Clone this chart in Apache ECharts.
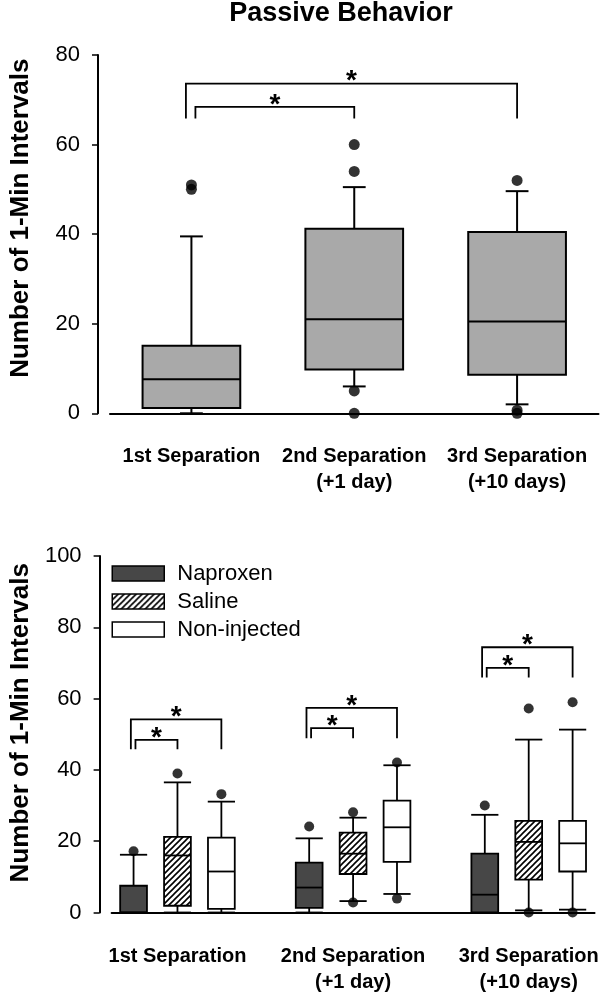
<!DOCTYPE html>
<html>
<head>
<meta charset="utf-8">
<script src="https://cdn.jsdelivr.net/npm/echarts@6/dist/echarts.min.js"></script>
<style>
html,body{margin:0;padding:0;background:#fff;}
#chart{width:600px;height:995px;}
</style>
</head>
<body>
<div id="chart"></div>
<script>
// ---------- data ----------
const chartTitle = 'Passive Behavior';
const yAxisTitle = 'Number of 1-Min Intervals';
const separationLabels = ['1st Separation', '2nd Separation\n(+1 day)', '3rd Separation\n(+10 days)'];

// top panel: [min, Q1, median, Q3, max]
const topYTicks = [0, 20, 40, 60, 80];
const topBoxes = [[0, 1.2, 7.6, 15.1, 39.5], [6.0, 9.8, 21.0, 41.2, 50.5], [2.0, 8.6, 20.5, 40.5, 49.6]];
const topOutliers = [[50, 51], [0, 5, 54, 60], [0, 0.7, 52]];
// [fromCategory, toCategory, barLevel, legEnd]
const topBrackets = [[0, 2, 73.6, 65.8], [0, 1, 68.4, 65.8]];

// bottom panel
const bottomYTicks = [0, 20, 40, 60, 80, 100];
const treatmentNames = ['Naproxen', 'Saline', 'Non-injected'];
const naproxenBoxes = [[0, 0, 0, 7.5, 16.2], [0, 1.3, 7.0, 14.0, 20.8], [0, 0, 5.0, 16.5, 27.4]];
const salineBoxes = [[0, 1.9, 16.0, 21.2, 36.5], [3.2, 10.8, 16.5, 22.4, 26.6], [0.6, 9.2, 19.8, 25.7, 48.5]];
const nonInjectedBoxes = [[0, 1.0, 11.5, 21.0, 31.1], [5.2, 14.2, 23.9, 31.4, 41.3], [0.8, 11.5, 19.4, 25.7, 51.3]];
const naproxenOutliers = [[17.2], [24.1], [30.0]];
const salineOutliers = [[39.0], [2.8, 28.1], [0, 57.2]];
const nonInjectedOutliers = [[33.2], [3.9, 42.1], [0, 59.0]];
// [group, fromTreatment, toTreatment, barLevel, legEnd]
const bottomBrackets = [
  [0, 0, 2, 54.2, 45.8], [0, 0, 1, 48.4, 45.8],
  [1, 0, 2, 57.4, 48.9], [1, 0, 1, 51.7, 48.9],
  [2, 0, 2, 74.4, 65.9], [2, 0, 1, 68.6, 65.9]
];

// ---------- styles ----------
const FONT = '"Liberation Sans", Arial, Helvetica, sans-serif';
function hatchPattern() {
  const c = document.createElement('canvas');
  const s = 6;
  c.width = s; c.height = s;
  const g = c.getContext('2d');
  g.fillStyle = '#fff'; g.fillRect(0, 0, s, s);
  g.strokeStyle = '#000'; g.lineWidth = 1.6;
  g.beginPath();
  g.moveTo(0, s); g.lineTo(s, 0);
  g.moveTo(-1, 1); g.lineTo(1, -1);
  g.moveTo(s - 1, s + 1); g.lineTo(s + 1, s - 1);
  g.stroke();
  return { image: c, repeat: 'repeat' };
}
const treatmentFills = ['#474747', hatchPattern(), '#ffffff'];

// ---------- helpers ----------
function boxRenderer(fill, boxRatio, capRatio, lw) {
  return function (params, api) {
    const x = api.value(0);
    const band = api.size([1, 0])[0];
    const bw = band * boxRatio, cw = band * capRatio;
    const pMin = api.coord([x, api.value(1)]);
    const pQ1 = api.coord([x, api.value(2)]);
    const pMd = api.coord([x, api.value(3)]);
    const pQ3 = api.coord([x, api.value(4)]);
    const pMax = api.coord([x, api.value(5)]);
    const cx = pMin[0];
    const st = { stroke: '#000', lineWidth: lw, fill: null };
    return {
      type: 'group',
      children: [
        { type: 'line', shape: { x1: cx, y1: pQ3[1], x2: cx, y2: pMax[1] }, style: st },
        { type: 'line', shape: { x1: cx, y1: pQ1[1], x2: cx, y2: pMin[1] }, style: st },
        { type: 'line', shape: { x1: cx - cw / 2, y1: pMax[1], x2: cx + cw / 2, y2: pMax[1] }, style: st },
        { type: 'line', shape: { x1: cx - cw / 2, y1: pMin[1], x2: cx + cw / 2, y2: pMin[1] }, style: st },
        { type: 'rect', shape: { x: cx - bw / 2, y: pQ3[1], width: bw, height: pQ1[1] - pQ3[1] },
          style: { fill: fill, stroke: '#000', lineWidth: lw } },
        { type: 'line', shape: { x1: cx - bw / 2, y1: pMd[1], x2: cx + bw / 2, y2: pMd[1] }, style: st }
      ]
    };
  };
}
function bracketRenderer(outerNudge, innerNudge) {
  return function (params, api) {
    const a = api.value(0), b = api.value(1);
    const outer = (b - a) > 1;
    const nudge = outer ? outerNudge : innerNudge;
    const pL = api.coord([a, api.value(2)]);
    const pR = api.coord([b, api.value(2)]);
    const pLeg = api.coord([a, api.value(3)]);
    const xl = pL[0] + nudge, xr = pR[0];
    const mid = (xl + xr) / 2;
    return {
      type: 'group',
      children: [
        { type: 'polyline', shape: { points: [[xl, pLeg[1]], [xl, pL[1]], [xr, pL[1]], [xr, pLeg[1]]] },
          style: { stroke: '#000', lineWidth: 1.8, fill: null } },
        { type: 'text', style: { text: '*', x: mid, y: pL[1] - 2, align: 'center', verticalAlign: 'middle',
          fontSize: 28, fontWeight: 'bold', fontFamily: FONT, fill: '#000' } }
      ]
    };
  };
}

// bottom slots: each group has 3 treatment slots plus one empty gap slot
const slotsPerGroup = 4;
const bottomSlots = [];
for (let i = 0; i < slotsPerGroup * separationLabels.length - 1; i++) bottomSlots.push('slot' + i);
function slotOf(g, t) { return g * slotsPerGroup + t; }
function slotLabel(idx) {
  return (idx % slotsPerGroup === 1) ? separationLabels[Math.floor(idx / slotsPerGroup)] : '';
}

// ---------- build series ----------
const series = [];
series.push({
  type: 'custom', name: 'Passive', xAxisIndex: 0, yAxisIndex: 0,
  renderItem: boxRenderer('#a9a9a9', 0.6, 0.14, 2),
  encode: { x: 0, y: [1, 2, 3, 4, 5] },
  data: topBoxes.map((b, i) => [i].concat(b)), z: 2
});
const topOutPts = [];
topOutliers.forEach((arr, i) => arr.forEach(v => topOutPts.push([i, v])));
series.push({
  type: 'scatter', name: 'PassiveOut', xAxisIndex: 0, yAxisIndex: 0,
  symbol: 'circle', symbolSize: 11, itemStyle: { color: '#000' }, data: topOutPts, z: 5, silent: true
});
series.push({
  type: 'custom', name: 'PassiveSig', xAxisIndex: 0, yAxisIndex: 0,
  renderItem: bracketRenderer(-5.5, 4), encode: { x: [0, 1], y: [2, 3] }, data: topBrackets, z: 3
});

const bottomBoxSets = [naproxenBoxes, salineBoxes, nonInjectedBoxes];
const bottomOutSets = [naproxenOutliers, salineOutliers, nonInjectedOutliers];
treatmentNames.forEach((name, t) => {
  series.push({
    type: 'custom', name: name, xAxisIndex: 1, yAxisIndex: 1,
    itemStyle: { color: treatmentFills[t], borderColor: '#000', borderWidth: 1.5 },
    renderItem: boxRenderer(treatmentFills[t], 0.61, 0.62, 1.8),
    encode: { x: 0, y: [1, 2, 3, 4, 5] },
    data: bottomBoxSets[t].map((b, g) => [slotOf(g, t)].concat(b)), z: 2
  });
  const pts = [];
  bottomOutSets[t].forEach((arr, g) => arr.forEach(v => pts.push([slotOf(g, t), v])));
  series.push({
    type: 'scatter', name: name + ' outliers', xAxisIndex: 1, yAxisIndex: 1,
    symbol: 'circle', symbolSize: 10, itemStyle: { color: '#000' }, data: pts, z: 5, silent: true
  });
});
series.push({
  type: 'custom', name: 'TreatSig', xAxisIndex: 1, yAxisIndex: 1,
  renderItem: bracketRenderer(-2.7, 1.9), encode: { x: [0, 1], y: [2, 3] },
  data: bottomBrackets.map(r => [slotOf(r[0], r[1]), slotOf(r[0], r[2]), r[3], r[4]]), z: 3
});

// ---------- axes ----------
function yAxisCfg(gridIndex, ticks, namePad) {
  return {
    type: 'value', gridIndex: gridIndex,
    min: ticks[0], max: ticks[ticks.length - 1], interval: ticks[1] - ticks[0],
    offset: 12,
    name: yAxisTitle, nameLocation: 'middle', nameGap: 64,
    nameTextStyle: { fontSize: 26, fontWeight: 'bold', color: '#000', fontFamily: FONT, padding: [0, 0, 0, namePad] },
    axisLine: { show: true, lineStyle: { color: '#000', width: 2 } },
    axisTick: { show: true, length: 6, lineStyle: { color: '#000', width: 1.5 } },
    axisLabel: { fontSize: 22, color: '#000', fontFamily: FONT, margin: 18 },
    splitLine: { show: false }
  };
}
function xAxisCfg(gridIndex, data, formatter) {
  return {
    type: 'category', gridIndex: gridIndex, data: data, offset: 17.5,
    axisLine: { show: true, lineStyle: { color: '#000', width: 2 } },
    axisTick: { show: false },
    axisLabel: { interval: 0, fontSize: 20, fontWeight: 'bold', color: '#000', fontFamily: FONT,
      margin: 13, lineHeight: 26, formatter: formatter },
    splitLine: { show: false }
  };
}

const option = {
  backgroundColor: '#fff',
  animation: false,
  title: { text: chartTitle, left: 341, textAlign: 'center', top: 0, padding: 0,
    textStyle: { fontSize: 27, fontWeight: 'bold', color: '#000', fontFamily: FONT } },
  legend: {
    data: treatmentNames, orient: 'vertical', left: 111.5, top: 562.5, padding: 0,
    icon: 'rect', itemWidth: 52, itemHeight: 15, itemGap: 6,
    itemStyle: { borderColor: '#000', borderWidth: 1.5 },
    textStyle: { fontSize: 22, color: '#000', fontFamily: FONT, lineHeight: 22, padding: [0, 0, 0, 8] },
    selectedMode: false
  },
  grid: [
    { left: 100, right: 1.5, top: 55, height: 358.3 },
    { left: 100, right: 1.5, top: 556, height: 358 }
  ],
  xAxis: [
    xAxisCfg(0, separationLabels),
    xAxisCfg(1, bottomSlots, (v, idx) => slotLabel(idx))
  ],
  yAxis: [
    yAxisCfg(0, topYTicks, 32),
    yAxisCfg(1, bottomYTicks, 23)
  ],
  series: series
};

const chart = echarts.init(document.getElementById('chart'), null, { renderer: 'canvas' });
chart.setOption(option);
</script>
</body>
</html>
